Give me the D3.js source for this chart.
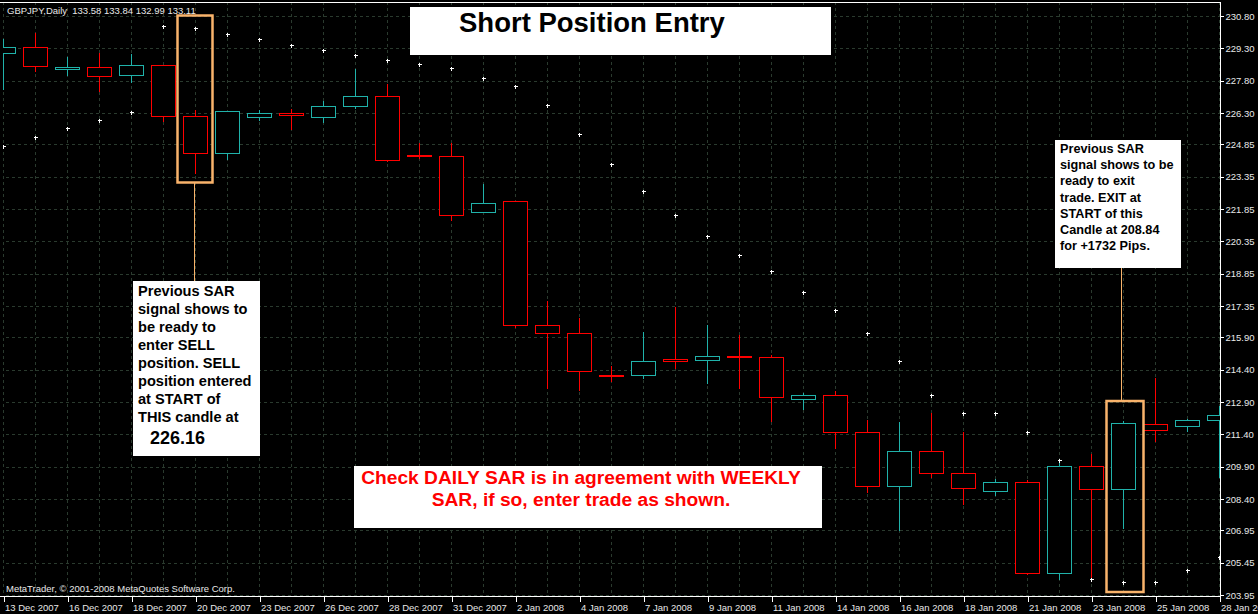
<!DOCTYPE html>
<html>
<head>
<meta charset="utf-8">
<script src="https://cdn.jsdelivr.net/npm/d3@7"></script>
<style>
  html, body { margin: 0; padding: 0; background: #000; }
  svg { display: block; }
</style>
</head>
<body>
<div id="chart"></div>
<script>
// GBPJPY daily candles, 13 Dec 2007 .. 28 Jan 2008
let dates = ["13 Dec 2007", "14 Dec 2007", "16 Dec 2007", "17 Dec 2007", "18 Dec 2007", "19 Dec 2007",
  "20 Dec 2007", "21 Dec 2007", "23 Dec 2007", "24 Dec 2007", "26 Dec 2007", "27 Dec 2007", "28 Dec 2007",
  "30 Dec 2007", "31 Dec 2007", "1 Jan 2008", "2 Jan 2008", "3 Jan 2008", "4 Jan 2008", "6 Jan 2008",
  "7 Jan 2008", "8 Jan 2008", "9 Jan 2008", "10 Jan 2008", "11 Jan 2008", "13 Jan 2008", "14 Jan 2008",
  "15 Jan 2008", "16 Jan 2008", "17 Jan 2008", "18 Jan 2008", "20 Jan 2008", "21 Jan 2008", "22 Jan 2008",
  "23 Jan 2008", "24 Jan 2008", "25 Jan 2008", "27 Jan 2008", "28 Jan 2008"];

let open = [229.08, 229.35, 228.33, 228.42, 228.05, 228.51, 226.16, 224.41, 226.08, 226.27, 226.08, 226.61, 227.08,
  224.34, 224.29, 221.68, 222.21, 216.46, 216.09, 214.14, 214.12, 214.85, 214.82, 215.03, 214.97, 213.03, 213.21,
  211.49, 208.99, 210.61, 209.59, 208.74, 209.18, 204.96, 209.92, 208.84, 211.87, 211.76, 212.03];
let high = [229.73, 230.03, 228.90, 229.10, 229.04, 228.53, 226.44, 226.40, 226.44, 226.47, 226.84, 228.34, 227.63,
  224.90, 224.90, 223.01, 222.22, 217.57, 216.80, 214.57, 216.15, 217.31, 216.47, 216.01, 215.08, 213.32, 213.41,
  212.07, 211.97, 212.39, 211.49, 209.32, 209.28, 210.06, 210.47, 212.02, 214.01, 212.10, 212.72];
let low = [227.37, 228.22, 228.02, 227.29, 227.68, 225.88, 223.49, 224.12, 225.94, 225.51, 225.82, 226.50, 224.04,
  224.15, 221.28, 221.66, 216.35, 213.50, 213.41, 213.83, 213.97, 214.43, 213.74, 213.50, 211.97, 212.53, 210.71,
  208.69, 206.92, 209.36, 208.14, 208.56, 204.89, 204.66, 204.54, 207.02, 211.06, 211.52, 209.36];
let close = [229.36, 228.45, 228.42, 227.99, 228.51, 226.13, 224.41, 226.38, 226.29, 226.18, 226.61, 227.08, 224.09,
  224.32, 221.56, 222.11, 216.46, 216.07, 214.31, 214.13, 214.79, 214.78, 215.02, 214.96, 213.12, 213.21, 211.49,
  208.99, 210.61, 209.59, 208.88, 209.18, 204.96, 209.92, 208.83, 211.91, 211.59, 212.05, 212.28];

// Parabolic SAR dots
let sar = [224.77, 225.18, 225.59, 225.96, 226.33, 230.32, 230.23, 229.95, 229.72, 229.44, 229.21, 228.98, 228.75,
  228.56, 228.38, 227.91, 227.54, 226.66, 225.31, 223.92, 222.67, 221.56, 220.58, 219.70, 218.96, 217.99, 217.15,
  216.09, 214.79, 213.21, 212.38, 212.38, 211.49, 210.20, 204.68, 204.54, 204.54, 205.10, 205.70];

// price axis labels as MetaTrader prints them
let priceTicks = [230.80, 229.30, 227.80, 226.30, 224.85, 223.35, 221.85, 220.35, 218.85, 217.35,
  215.90, 214.40, 212.90, 211.40, 209.90, 208.40, 206.95, 205.45, 203.95];

let entryIndex = 6;  // 20 Dec 2007
let exitIndex = 35;  // 24 Jan 2008

let width = 1258, height = 614;
let plot = { left: 3, right: 1220, top: 2, bottom: 596 };

let bullColor = "#20b2aa";
let bearColor = "#ff0000";
let gridColor = "#2a3a2e";
let boxColor = "#f9b36b";

let svg = d3.select("#chart").append("svg")
  .attr("width", width)
  .attr("height", height)
  .style("font-family", "'Liberation Sans', Arial, sans-serif");

svg.append("rect").attr("width", width).attr("height", height).attr("fill", "#000");

let x = d3.scalePoint().domain(dates).range([3.5, 1219.5]);
let y = d3.scaleLinear().domain([203.95, 230.80]).range([595, 16]);

svg.append("clipPath").attr("id", "plotclip")
  .append("rect")
  .attr("x", plot.left).attr("y", plot.top)
  .attr("width", plot.right - plot.left).attr("height", plot.bottom - plot.top);

// grid
let grid = svg.append("g").attr("shape-rendering", "crispEdges").attr("clip-path", "url(#plotclip)");
grid.selectAll("line.h")
  .data(priceTicks)
  .enter().append("line")
  .attr("class", "h")
  .attr("x1", 0).attr("x2", plot.right)
  .attr("y1", d => Math.round(y(d)) + 0.5).attr("y2", d => Math.round(y(d)) + 0.5)
  .attr("stroke", gridColor).attr("stroke-dasharray", "3,3");
grid.selectAll("line.v")
  .data(dates)
  .enter().append("line")
  .attr("class", "v")
  .attr("x1", d => x(d)).attr("x2", d => x(d))
  .attr("y1", plot.top).attr("y2", plot.bottom)
  .attr("stroke", gridColor).attr("stroke-dasharray", "3,3");

// candles
let candles = dates.map((d, i) => ({ date: d, o: open[i], h: high[i], l: low[i], c: close[i], s: sar[i] }));
let bodyW = 24;

let cg = svg.append("g").attr("clip-path", "url(#plotclip)").attr("shape-rendering", "crispEdges");
let candle = cg.selectAll("g.candle")
  .data(candles)
  .enter().append("g")
  .attr("class", "candle");

candle.append("line")
  .attr("x1", d => x(d.date)).attr("x2", d => x(d.date))
  .attr("y1", d => y(d.h)).attr("y2", d => y(d.l))
  .attr("stroke", d => d.c >= d.o ? bullColor : bearColor);

candle.append("rect")
  .attr("x", d => x(d.date) - bodyW / 2)
  .attr("y", d => y(Math.max(d.o, d.c)))
  .attr("width", bodyW)
  .attr("height", d => Math.max(1, Math.abs(y(d.o) - y(d.c))))
  .attr("fill", "#000")
  .attr("stroke", d => d.c >= d.o ? bullColor : bearColor);

// SAR crosses
cg.selectAll("path.sar")
  .data(candles)
  .enter().append("path")
  .attr("class", "sar")
  .attr("transform", d => `translate(${x(d.date)},${Math.round(y(d.s)) + 0.5})`)
  .attr("d", "M-2,0H2M0,-2V2")
  .attr("stroke", "#fff")
  .attr("stroke-width", 1.2);

// frame + axes
let frame = svg.append("g").attr("shape-rendering", "crispEdges").attr("stroke", "#fff");
frame.append("line").attr("x1", 0).attr("x2", plot.right).attr("y1", plot.top + 0.5).attr("y2", plot.top + 0.5);
frame.append("line").attr("x1", plot.right + 0.5).attr("x2", plot.right + 0.5).attr("y1", plot.top).attr("y2", plot.bottom + 1);
frame.append("line").attr("x1", 0).attr("x2", plot.right + 1).attr("y1", plot.bottom + 0.5).attr("y2", plot.bottom + 0.5);

// right price axis
let yAxis = svg.append("g")
  .attr("transform", `translate(${plot.right + 0.5},0)`)
  .call(d3.axisRight(y).tickValues(priceTicks).tickFormat(d3.format(".2f")).tickSize(3).tickPadding(2));
yAxis.select(".domain").remove();
yAxis.selectAll("line").attr("stroke", "#fff").attr("shape-rendering", "crispEdges");
yAxis.selectAll("text")
  .attr("fill", "#e8e8e8")
  .style("font-size", "9.5px")
  .style("font-family", "'Liberation Sans', Arial, sans-serif");

// bottom date axis, every second candle
let tickDates = dates.filter((d, i) => i % 2 === 0);
let xAxis = svg.append("g")
  .attr("transform", `translate(0,${plot.bottom + 0.5})`)
  .call(d3.axisBottom(x).tickValues(tickDates).tickSize(5).tickPadding(3));
xAxis.select(".domain").remove();
xAxis.selectAll("line").attr("stroke", "#fff").attr("shape-rendering", "crispEdges");
xAxis.selectAll("text")
  .attr("fill", "#e8e8e8")
  .attr("text-anchor", "start")
  .attr("dx", 1)
  .style("font-size", "9.5px")
  .style("font-family", "'Liberation Sans', Arial, sans-serif");

// header and copyright
svg.append("text").attr("x", 7).attr("y", 14)
  .attr("fill", "#e8e8e8").style("font-size", "9.5px")
  .text("GBPJPY,Daily  133.58 133.84 132.99 133.11")
  .attr("xml:space", "preserve").style("white-space", "pre");
svg.append("text").attr("x", 6).attr("y", 592)
  .attr("fill", "#e8e8e8").style("font-size", "9.5px")
  .text("MetaTrader, \u00a9 2001-2008 MetaQuotes Software Corp.");

// orange highlight boxes around the entry and exit candles
let ann = svg.append("g");
let entryX = x(dates[entryIndex]);
let exitX = x(dates[exitIndex]);

ann.append("line").attr("x1", entryX - 1).attr("x2", entryX - 1).attr("y1", 183).attr("y2", 282)
  .attr("stroke", boxColor).attr("stroke-width", 1).attr("shape-rendering", "crispEdges");
ann.append("rect").attr("x", entryX - 18).attr("y", 15.5).attr("width", 35).attr("height", 167)
  .attr("fill", "none").attr("stroke", boxColor).attr("stroke-width", 2.5);

ann.append("line").attr("x1", exitX - 2).attr("x2", exitX - 2).attr("y1", 267).attr("y2", 401)
  .attr("stroke", boxColor).attr("stroke-width", 1).attr("shape-rendering", "crispEdges");
ann.append("rect").attr("x", exitX - 17).attr("y", 401).attr("width", 37).attr("height", 191)
  .attr("fill", "none").attr("stroke", boxColor).attr("stroke-width", 2.5);

// title box
ann.append("rect").attr("x", 410).attr("y", 7).attr("width", 421).attr("height", 48).attr("fill", "#fff");
ann.append("text").attr("x", 459).attr("y", 32)
  .attr("fill", "#000").style("font-size", "27.5px").style("font-weight", "bold")
  .text("Short Position Entry");

// entry note
let entryLines = ["Previous SAR", "signal shows to", "be ready to", "enter SELL", "position. SELL",
  "position entered", "at START of", "THIS candle at"];
ann.append("rect").attr("x", 133).attr("y", 281).attr("width", 127).attr("height", 175).attr("fill", "#fff");
ann.append("g").selectAll("text")
  .data(entryLines)
  .enter().append("text")
  .attr("x", 138).attr("y", (d, i) => 296 + i * 18)
  .attr("fill", "#000").style("font-size", "14.6px").style("font-weight", "bold")
  .text(d => d);
ann.append("text").attr("x", 150).attr("y", 444)
  .attr("fill", "#000").style("font-size", "18px").style("font-weight", "bold")
  .text("226.16");

// exit note
let exitLines = ["Previous SAR", "signal shows to be", "ready to exit", "trade. EXIT at",
  "START of this", "Candle at 208.84", "for +1732 Pips."];
ann.append("rect").attr("x", 1055).attr("y", 140).attr("width", 126).attr("height", 128).attr("fill", "#fff");
ann.append("g").selectAll("text")
  .data(exitLines)
  .enter().append("text")
  .attr("x", 1060).attr("y", (d, i) => 153 + i * 16.2)
  .attr("fill", "#000").style("font-size", "12.7px").style("font-weight", "bold")
  .text(d => d);

// red rule note
ann.append("rect").attr("x", 354).attr("y", 466).attr("width", 468).attr("height", 62).attr("fill", "#fff");
ann.append("g").selectAll("text")
  .data(["Check DAILY SAR is in agreement with WEEKLY", "SAR, if so, enter trade as shown."])
  .enter().append("text")
  .attr("x", 581).attr("y", (d, i) => 484 + i * 22)
  .attr("text-anchor", "middle")
  .attr("fill", "#ff0000").style("font-size", "19.2px").style("font-weight", "bold")
  .text(d => d);
</script>
</body>
</html>
